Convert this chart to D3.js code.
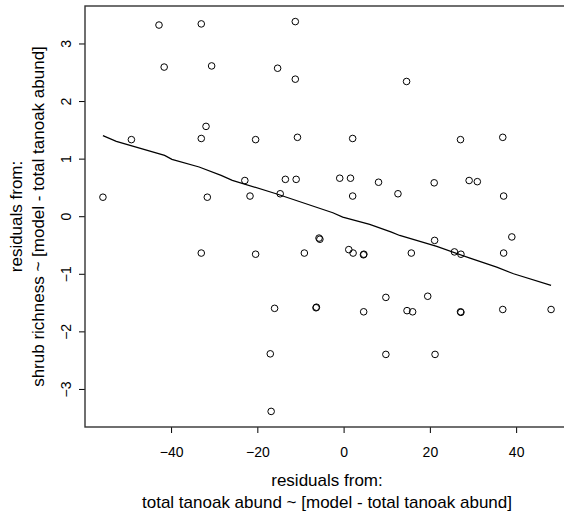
<!DOCTYPE html>
<html>
<head>
<meta charset="utf-8">
<script src="https://cdn.jsdelivr.net/npm/d3@7"></script>
<style>
  html, body { margin: 0; padding: 0; background: #fff; }
  svg { display: block; font-family: "Liberation Sans", Arial, sans-serif; }
</style>
</head>
<body>
<svg id="chart" width="564" height="512"></svg>
<script>
// residuals of total tanoak abundance (x) vs residuals of shrub richness (y)
const tanoakResid = [
  -42.8, -33.0, -11.2, -41.6, -30.6, -15.3, -11.2, 14.6, -49.2, -31.9,
  -33.0, -20.4, -10.7, 2.1, 27.1, 36.9, -22.9, -13.5, -11.0, -0.9,
  1.6, 8.1, 21.0, 29.1, 31.0, -55.8, -31.6, -21.7, -14.7, 2.1,
  12.6, 37.1, -5.7, -5.5, 21.1, 39.0, -33.0, -20.4, -9.1, 1.2,
  2.2, 4.7, 4.6, 15.7, 25.7, 27.2, 37.1, 9.8, 19.5, -16.0,
  -6.3, -6.4, 4.65, 14.7, 16.0, 27.1, 27.2, 36.9, 48.1, -17.0,
  9.8, 21.2, -16.8
];
const shrubResid = [
  3.32, 3.34, 3.38, 2.59, 2.61, 2.57, 2.38, 2.34, 1.33, 1.56,
  1.35, 1.33, 1.37, 1.35, 1.33, 1.37, 0.62, 0.64, 0.64, 0.66,
  0.66, 0.59, 0.58, 0.62, 0.60, 0.33, 0.33, 0.35, 0.39, 0.35,
  0.39, 0.35, -0.38, -0.40, -0.42, -0.36, -0.64, -0.66, -0.64, -0.58,
  -0.64, -0.66, -0.67, -0.64, -0.62, -0.66, -0.64, -1.41, -1.39, -1.60,
  -1.58, -1.59, -1.66, -1.64, -1.66, -1.66, -1.67, -1.62, -1.62, -2.39,
  -2.40, -2.40, -3.39
];

// lowess smooth
const smoothX = [-55.8, -52.7, -41.5, -39.8, -33.5, -28.4, -25.8, -15.65, -2.5, -0.2,
  6.05, 11.1, 13.0, 21.6, 29.3, 35.5, 39.4, 48.1];
const smoothY = [1.40, 1.30, 1.057, 0.988, 0.854, 0.71, 0.623, 0.391, 0.061, -0.016,
  -0.143, -0.277, -0.334, -0.525, -0.729, -0.885, -1.0, -1.20];

const xTicks = [-40, -20, 0, 20, 40];
const yTicks = [-3, -2, -1, 0, 1, 2, 3];

const xTitle = ['residuals from:', 'total tanoak abund ~ [model - total tanoak abund]'];
const yTitle = ['residuals from:', 'shrub richness ~ [model - total tanoak abund]'];

const plotL = 85, plotR = 569, plotT = 6, plotB = 427;
const FONT = '"Liberation Sans", Arial, sans-serif';

// R style 4% padding on the data range
function padded(vals) {
  const [a, b] = d3.extent(vals);
  const p = (b - a) * 0.04;
  return [a - p, b + p];
}

const x = d3.scaleLinear().domain(padded(tanoakResid)).range([plotL, plotR]);
const y = d3.scaleLinear().domain(padded(shrubResid)).range([plotB, plotT]);

const svg = d3.select('#chart');

// x axis
const xAxis = svg.append('g').attr('transform', `translate(0,${plotB})`)
  .call(d3.axisBottom(x).tickValues(xTicks).tickSize(6).tickPadding(14).tickFormat(d3.format('d')));
xAxis.select('.domain').remove();
xAxis.selectAll('line').attr('stroke', '#000');
xAxis.selectAll('text').attr('font-size', 14).attr('fill', '#000').attr('font-family', FONT);

// y axis, labels rotated like R
const yAxis = svg.append('g').attr('transform', `translate(${plotL},0)`)
  .call(d3.axisLeft(y).tickValues(yTicks).tickSize(6).tickFormat(d3.format('d')));
yAxis.select('.domain').remove();
yAxis.selectAll('line').attr('stroke', '#000');
yAxis.selectAll('text')
  .attr('x', null).attr('dy', null)
  .attr('text-anchor', 'middle')
  .attr('transform', 'translate(-14,0) rotate(-90)')
  .attr('font-size', 14).attr('fill', '#000').attr('font-family', FONT);

// plot box
svg.append('rect')
  .attr('x', plotL).attr('y', plotT)
  .attr('width', plotR - plotL).attr('height', plotB - plotT)
  .attr('fill', 'none').attr('stroke', '#333').attr('stroke-width', 1.4);

// smooth line
const line = d3.line().x((d) => x(d[0])).y((d) => y(d[1]));
svg.append('path')
  .datum(d3.zip(smoothX, smoothY))
  .attr('d', line)
  .attr('fill', 'none').attr('stroke', '#000').attr('stroke-width', 1.2);

// points
svg.append('g').selectAll('circle')
  .data(d3.zip(tanoakResid, shrubResid))
  .join('circle')
  .attr('cx', (d) => x(d[0]))
  .attr('cy', (d) => y(d[1]))
  .attr('r', 3.3)
  .attr('fill', 'none').attr('stroke', '#000').attr('stroke-width', 1);

// axis titles
const midX = (plotL + plotR) / 2;
const midY = (plotT + plotB) / 2;
svg.append('g').selectAll('text').data(xTitle).join('text')
  .attr('x', midX)
  .attr('y', (d, i) => 486 + i * 21.5)
  .attr('text-anchor', 'middle')
  .attr('font-size', 17)
  .text((d) => d);

svg.append('g').selectAll('text').data(yTitle).join('text')
  .attr('transform', (d, i) => `translate(${22 + i * 21.5},${midY}) rotate(-90)`)
  .attr('text-anchor', 'middle')
  .attr('font-size', 17)
  .text((d) => d);
</script>
</body>
</html>
